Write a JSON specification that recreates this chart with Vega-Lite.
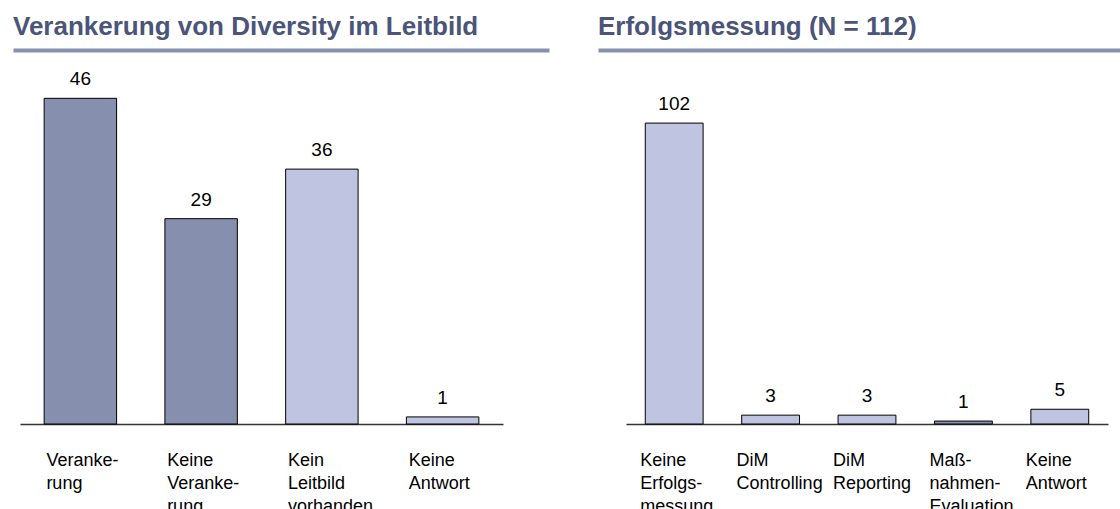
{
  "$schema": "https://vega.github.io/schema/vega-lite/v6.json",
  "padding": {"left": 13, "top": 14, "right": 0, "bottom": 0},
  "autosize": {"type": "pad"},
  "config": {
    "view": {"stroke": null},
    "font": "Liberation Sans",
    "concat": {"spacing": 49},
    "title": {"anchor": "start", "frame": "group", "fontSize": 26, "fontWeight": "bold", "color": "#4b5479", "offset": 10, "font": "Liberation Sans"},
    "axisX": {"labelFont": "Liberation Sans"}
  },
  "datasets": {
    "leitbild": [
      {"kategorie": "Veranke-\nrung", "anzahl": 46, "markiert": "ja"},
      {"kategorie": "Keine\nVeranke-\nrung", "anzahl": 29, "markiert": "ja"},
      {"kategorie": "Kein\nLeitbild\nvorhanden", "anzahl": 36, "markiert": "nein"},
      {"kategorie": "Keine\nAntwort", "anzahl": 1, "markiert": "nein"}
    ],
    "erfolg": [
      {"kategorie": "Keine\nErfolgs-\nmessung", "anzahl": 102, "markiert": "nein"},
      {"kategorie": "DiM\nControlling", "anzahl": 3, "markiert": "nein"},
      {"kategorie": "DiM\nReporting", "anzahl": 3, "markiert": "nein"},
      {"kategorie": "Maß-\nnahmen-\nEvaluation", "anzahl": 1, "markiert": "ja"},
      {"kategorie": "Keine\nAntwort", "anzahl": 5, "markiert": "nein"}
    ]
  },
  "hconcat": [
    {
      "title": {"text": "Verankerung von Diversity im Leitbild"},
      "width": 536,
      "height": 354,
      "data": {"name": "leitbild"},
      "layer": [
        {
          "layer": [
            {
              "mark": {"type": "bar", "stroke": "#000000", "strokeWidth": 1},
              "encoding": {
                "x": {
                  "field": "kategorie", "type": "nominal", "sort": null,
                  "scale": {"range": [7, 490], "paddingInner": 0.4, "paddingOuter": 0.2},
                  "axis": {"title": null, "ticks": false, "domainColor": "#333333", "domainWidth": 1.5, "labelAlign": "left", "labelOffset": -34, "labelBaseline": "top", "labelPadding": 27, "labelFontSize": 18, "labelColor": "#000000", "labelLineHeight": 23, "labelAngle": 0, "labelOverlap": false, "labelLimit": 0, "labelExpr": "split(datum.label, '\\n')"}
                },
                "y": {"field": "anzahl", "type": "quantitative", "scale": {"domain": [0, 50]}, "axis": null},
                "color": {"field": "markiert", "type": "nominal", "scale": {"domain": ["ja", "nein"], "range": ["#878faf", "#bfc5e0"]}, "legend": null}
              }
            },
            {
              "mark": {"type": "text", "baseline": "alphabetic", "dy": -13, "fontSize": 19, "color": "#000000"},
              "encoding": {
                "x": {"field": "kategorie", "type": "nominal", "sort": null},
                "y": {"field": "anzahl", "type": "quantitative"},
                "text": {"field": "anzahl", "type": "quantitative"}
              }
            }
          ]
        },
        {
          "mark": {"type": "rule", "opacity": 0},
          "encoding": {
            "x": {"field": "anzahl", "type": "quantitative", "axis": {"orient": "top", "offset": 20, "domainColor": "#8890b0", "domainWidth": 4, "ticks": false, "labels": false, "grid": false, "title": null}}
          }
        }
      ],
      "resolve": {"scale": {"x": "independent"}, "axis": {"x": "independent"}}
    },
    {
      "title": {"text": "Erfolgsmessung (N = 112)"},
      "width": 522,
      "height": 354,
      "data": {"name": "erfolg"},
      "layer": [
        {
          "layer": [
            {
              "mark": {"type": "bar", "stroke": "#000000", "strokeWidth": 1},
              "encoding": {
                "x": {
                  "field": "kategorie", "type": "nominal", "sort": null,
                  "scale": {"range": [28, 510], "paddingInner": 0.4, "paddingOuter": 0.2},
                  "axis": {"title": null, "ticks": false, "domainColor": "#333333", "domainWidth": 1.5, "labelAlign": "left", "labelOffset": -34, "labelBaseline": "top", "labelPadding": 27, "labelFontSize": 18, "labelColor": "#000000", "labelLineHeight": 23, "labelAngle": 0, "labelOverlap": false, "labelLimit": 0, "labelExpr": "split(datum.label, '\\n')"}
                },
                "y": {"field": "anzahl", "type": "quantitative", "scale": {"domain": [0, 120]}, "axis": null},
                "color": {"field": "markiert", "type": "nominal", "scale": {"domain": ["ja", "nein"], "range": ["#878faf", "#bfc5e0"]}, "legend": null}
              }
            },
            {
              "mark": {"type": "text", "baseline": "alphabetic", "dy": -13, "fontSize": 19, "color": "#000000"},
              "encoding": {
                "x": {"field": "kategorie", "type": "nominal", "sort": null},
                "y": {"field": "anzahl", "type": "quantitative"},
                "text": {"field": "anzahl", "type": "quantitative"}
              }
            }
          ]
        },
        {
          "mark": {"type": "rule", "opacity": 0},
          "encoding": {
            "x": {"field": "anzahl", "type": "quantitative", "axis": {"orient": "top", "offset": 20, "domainColor": "#8890b0", "domainWidth": 4, "ticks": false, "labels": false, "grid": false, "title": null}}
          }
        }
      ],
      "resolve": {"scale": {"x": "independent"}, "axis": {"x": "independent"}}
    }
  ]
}
